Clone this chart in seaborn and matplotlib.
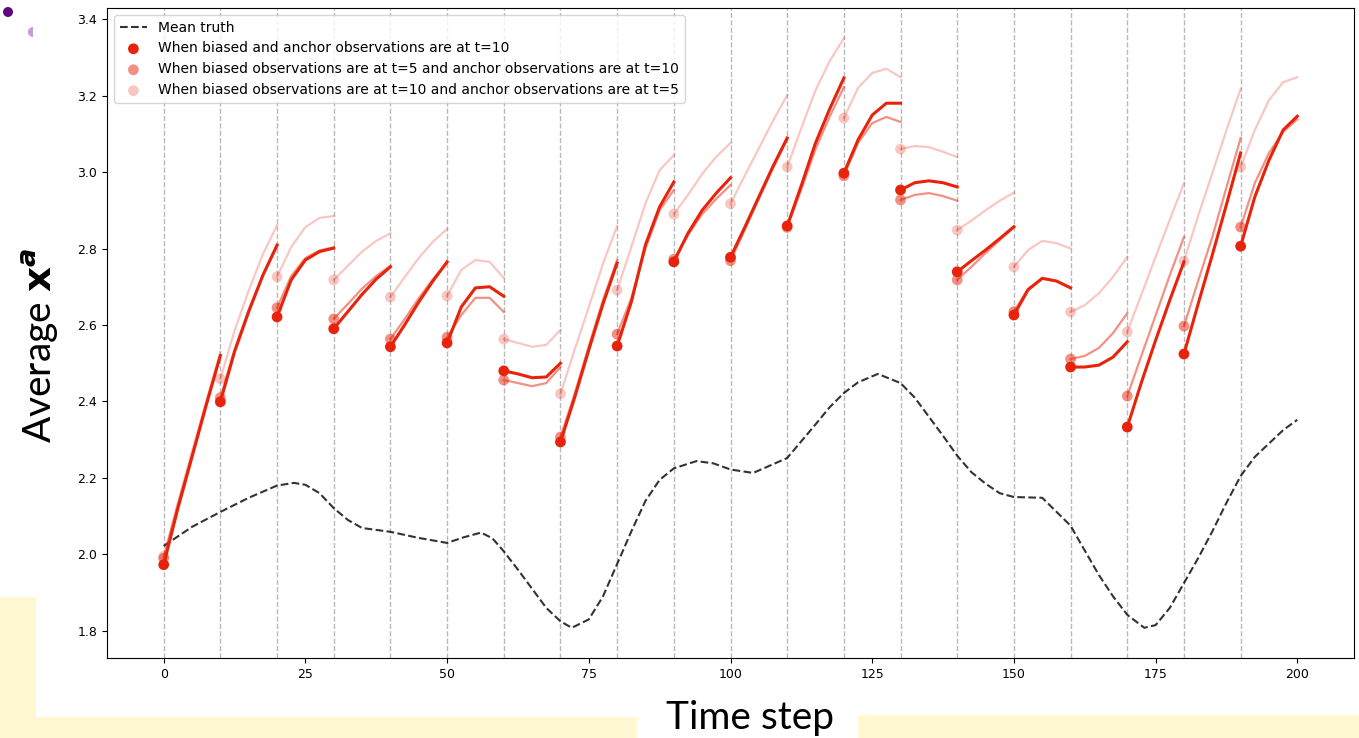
import numpy as np
import pandas as pd
import matplotlib
matplotlib.use("Agg")
import matplotlib.pyplot as plt
import matplotlib.patches as mpatches
import seaborn as sns

# mean truth curve
truth_t = [0, 5, 10, 15, 20, 23, 25, 27.5, 30, 32.5, 35, 40, 45, 50, 53, 56, 58, 60, 62.5, 65,
           67.5, 70, 72, 75, 77.5, 80, 82.5, 85, 87.5, 90, 94, 97, 100, 104, 110, 115, 117.5,
           120, 122.5, 126, 130, 132.5, 135, 137.5, 140, 142.5, 145, 147.5, 150, 155, 160,
           162.5, 165, 167.5, 170, 173, 175, 177.5, 180, 182.5, 185, 187.5, 190, 192.5, 195,
           197.5, 200]
truth_v = [2.022, 2.072, 2.111, 2.148, 2.180, 2.187, 2.182, 2.160, 2.121, 2.090, 2.069, 2.059,
           2.043, 2.030, 2.045, 2.057, 2.042, 2.008, 1.960, 1.910, 1.860, 1.825, 1.808, 1.830,
           1.890, 1.975, 2.060, 2.140, 2.195, 2.225, 2.244, 2.238, 2.222, 2.213, 2.252, 2.340,
           2.385, 2.422, 2.450, 2.472, 2.448, 2.410, 2.360, 2.310, 2.258, 2.215, 2.185, 2.160,
           2.150, 2.148, 2.075, 2.010, 1.946, 1.890, 1.842, 1.808, 1.815, 1.860, 1.925, 1.990,
           2.060, 2.135, 2.205, 2.255, 2.290, 2.325, 2.352]

# assimilation windows: each segment starts at an observation time
assim_times = list(range(0, 200, 10))
seg_offsets = [0, 2.5, 5, 7.5, 10]

both_t10 = [
    [1.973, 2.120, 2.255, 2.390, 2.520], [2.399, 2.530, 2.635, 2.730, 2.809],
    [2.621, 2.718, 2.770, 2.792, 2.801], [2.590, 2.635, 2.680, 2.720, 2.752],
    [2.543, 2.600, 2.660, 2.715, 2.765], [2.553, 2.647, 2.697, 2.700, 2.675],
    [2.480, 2.472, 2.462, 2.464, 2.500], [2.294, 2.410, 2.535, 2.655, 2.762],
    [2.545, 2.660, 2.810, 2.909, 2.974], [2.765, 2.840, 2.900, 2.945, 2.985],
    [2.777, 2.855, 2.935, 3.015, 3.089], [2.859, 2.965, 3.076, 3.165, 3.246],
    [2.997, 3.084, 3.149, 3.180, 3.180], [2.953, 2.972, 2.977, 2.972, 2.961],
    [2.739, 2.768, 2.796, 2.826, 2.857], [2.626, 2.692, 2.722, 2.715, 2.697],
    [2.490, 2.490, 2.495, 2.516, 2.556], [2.333, 2.450, 2.560, 2.665, 2.765],
    [2.524, 2.655, 2.783, 2.915, 3.050], [2.806, 2.935, 3.031, 3.110, 3.146],
]
biased_t5 = [
    [1.990, 2.130, 2.260, 2.395, 2.520], [2.410, 2.535, 2.640, 2.730, 2.805],
    [2.645, 2.728, 2.775, 2.795, 2.803], [2.616, 2.655, 2.695, 2.728, 2.755],
    [2.563, 2.615, 2.670, 2.720, 2.762], [2.568, 2.626, 2.671, 2.671, 2.634],
    [2.456, 2.448, 2.440, 2.448, 2.490], [2.307, 2.420, 2.545, 2.665, 2.770],
    [2.576, 2.670, 2.800, 2.900, 2.953], [2.772, 2.835, 2.890, 2.930, 2.966],
    [2.768, 2.848, 2.930, 3.010, 3.085], [2.855, 2.955, 3.060, 3.145, 3.222],
    [2.990, 3.076, 3.128, 3.144, 3.131], [2.927, 2.940, 2.945, 2.937, 2.925],
    [2.718, 2.752, 2.788, 2.822, 2.855], [2.635, 2.695, 2.722, 2.715, 2.697],
    [2.511, 2.519, 2.540, 2.579, 2.631], [2.414, 2.520, 2.625, 2.730, 2.830],
    [2.597, 2.715, 2.830, 2.960, 3.089], [2.856, 2.971, 3.050, 3.105, 3.138],
]
anchor_t5 = [
    [1.995, 2.135, 2.270, 2.400, 2.530], [2.459, 2.585, 2.690, 2.785, 2.861],
    [2.726, 2.804, 2.856, 2.880, 2.885], [2.718, 2.755, 2.792, 2.820, 2.840],
    [2.673, 2.725, 2.775, 2.818, 2.851], [2.676, 2.744, 2.770, 2.765, 2.723],
    [2.563, 2.553, 2.543, 2.548, 2.587], [2.420, 2.535, 2.647, 2.760, 2.859],
    [2.691, 2.804, 2.918, 3.005, 3.044], [2.890, 2.940, 2.995, 3.040, 3.076],
    [2.917, 2.990, 3.062, 3.134, 3.201], [3.013, 3.115, 3.214, 3.290, 3.350],
    [3.141, 3.220, 3.259, 3.270, 3.248], [3.060, 3.068, 3.065, 3.053, 3.039],
    [2.848, 2.873, 2.900, 2.925, 2.946], [2.752, 2.796, 2.820, 2.814, 2.800],
    [2.634, 2.652, 2.683, 2.726, 2.778], [2.582, 2.680, 2.778, 2.875, 2.971],
    [2.767, 2.885, 2.997, 3.110, 3.217], [3.013, 3.110, 3.188, 3.235, 3.248],
]

labels = [
    "When biased and anchor observations are at t=10",
    "When biased observations are at t=5 and anchor observations are at t=10",
    "When biased observations are at t=10 and anchor observations are at t=5",
]
red = "#e8230b"
alphas = [1.0, 0.5, 0.25]
widths = [2.2, 1.6, 1.6]

rows = []
for label, segs in zip(labels, [both_t10, biased_t5, anchor_t5]):
    for k, t0 in enumerate(assim_times):
        for off, v in zip(seg_offsets, segs[k]):
            rows.append((label, k, t0 + off, off, v))
df = pd.DataFrame(rows, columns=["series", "segment", "t", "offset", "value"])
truth = pd.DataFrame({"t": truth_t, "value": truth_v})

fig = plt.figure(figsize=(13.59, 7.38), dpi=100)

# slide decorations behind the plot
deco = fig.add_axes([0, 0, 1, 1], zorder=0)
deco.set_xlim(0, 1359)
deco.set_ylim(738, 0)
deco.axis("off")
yellow = "#fff8d2"
deco.add_patch(mpatches.Rectangle((0, 597), 36, 141, color=yellow, lw=0))
deco.add_patch(mpatches.Rectangle((0, 717), 637, 21, color=yellow, lw=0))
deco.add_patch(mpatches.Rectangle((858, 715), 501, 23, color=yellow, lw=0))
deco.add_patch(mpatches.Circle((8, 12), 5, color="#5e0a7c", lw=0))
deco.add_patch(mpatches.Wedge((33, 32), 5, 90, 270, color="#c89ad8", lw=0))

ax = fig.add_axes([107 / 1359, 80 / 738, 1247 / 1359, 650 / 738], zorder=1)

for t0 in assim_times:
    ax.axvline(t0, color="gray", ls="--", lw=1, alpha=0.55, zorder=1)

sns.lineplot(data=truth, x="t", y="value", color="black", ls="--", lw=1.5, alpha=0.8,
             label="Mean truth", ax=ax, zorder=2)

for i in [2, 1, 0]:
    sub = df[df["series"] == labels[i]]
    sns.lineplot(data=sub, x="t", y="value", units="segment", estimator=None, sort=False,
                 color=red, alpha=alphas[i], lw=widths[i], legend=False, ax=ax, zorder=3 + i)
    starts = sub[sub["offset"] == 0]
    sns.scatterplot(data=starts, x="t", y="value", color=red, alpha=alphas[i], s=60,
                    edgecolor="none", label=labels[i], ax=ax, zorder=3 + i)

h, l = ax.get_legend_handles_labels()
order = [l.index("Mean truth")] + [l.index(lab) for lab in labels]
ax.legend([h[j] for j in order], [l[j] for j in order], loc="upper left", fontsize=10,
          frameon=True)

ax.set_xlim(-10, 210)
ax.set_ylim(1.729, 3.429)
ax.set_xticks([0, 25, 50, 75, 100, 125, 150, 175, 200])
ax.set_yticks([1.8, 2.0, 2.2, 2.4, 2.6, 2.8, 3.0, 3.2, 3.4])
ax.tick_params(labelsize=9)
ax.set_xlabel("")
ax.set_ylabel("")

fig.text(750 / 1359, 1 - 718 / 738, "Time step", fontsize=28, family=["Lato", "DejaVu Sans"],
         ha="center", va="center", zorder=5)
fig.text(40 / 1359, 1 - 345 / 738, r"Average $\mathbf{x}^{\boldsymbol{a}}$", fontsize=28,
         family=["Lato", "DejaVu Sans"], rotation=90, ha="center", va="center", zorder=5)

fig.savefig("out.png", dpi=100)
